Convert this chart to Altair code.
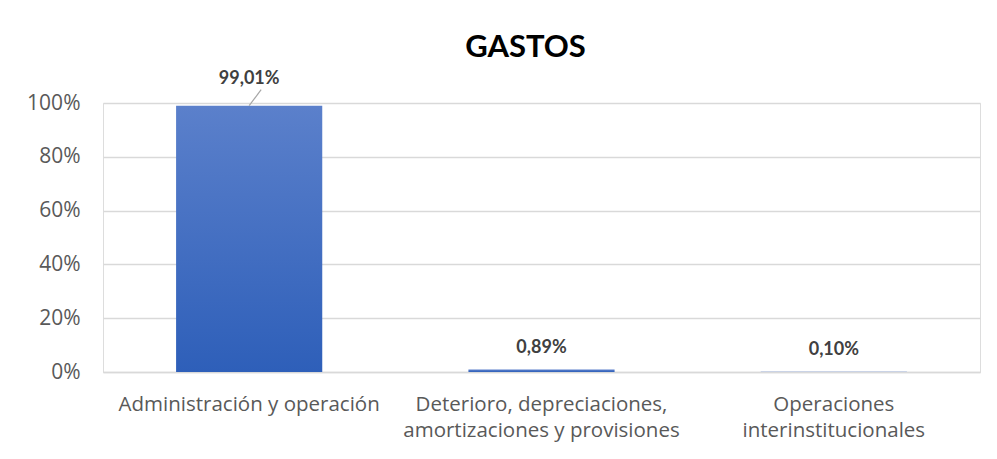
import altair as alt
import pandas as pd

categories = ["Administración y operación",
              "Deterioro, depreciaciones, amortizaciones y provisiones",
              "Operaciones interinstitucionales"]
label_lines = [["Administración y operación"],
               ["Deterioro, depreciaciones,", "amortizaciones y provisiones"],
               ["Operaciones", "interinstitucionales"]]
values = [0.9901, 0.0089, 0.0010]
value_labels = ["99,01%", "0,89%", "0,10%"]

df = pd.DataFrame({"cat": categories, "value": values, "label": value_labels})

FONT = "Lato"
AXFONT = "Open Sans"
GREY = "#595959"

label_expr = ("datum.value == '%s' ? %s : datum.value == '%s' ? %s : %s" % (
    categories[0], str(label_lines[0]), categories[1], str(label_lines[1]), str(label_lines[2])))

x = alt.X("cat:N", sort=categories, title=None,
          scale=alt.Scale(paddingInner=0.5, paddingOuter=0.25),
          axis=alt.Axis(labelAngle=0, labelFont=AXFONT, labelFontSize=20.5, labelColor=GREY,
                        labelPadding=22, labelExpr=label_expr, labelLineHeight=26.5,
                        ticks=False, domainColor="#d9d9d9", domainWidth=1.5, labelLimit=400))
y = alt.Y("value:Q", title=None,
          scale=alt.Scale(domain=[0, 1], nice=False),
          axis=alt.Axis(values=[0, 0.2, 0.4, 0.6, 0.8, 1.0], format=".0%",
                        labelFont=AXFONT, labelFontSize=21, labelColor=GREY, labelPadding=23,
                        ticks=False, domain=False, gridColor="#d9d9d9", gridWidth=1.3))

gradient = alt.Gradient(gradient="linear", x1=0, y1=0, x2=0, y2=1,
                        stops=[alt.GradientStop(color="#5b80cb", offset=0),
                               alt.GradientStop(color="#2e5fb9", offset=1)])

bars = alt.Chart(df).mark_bar(fill=gradient).encode(x=x, y=y)

lab = alt.Chart(df).transform_calculate(
    ly="datum.value > 0.5 ? datum.value + 0.098 : datum.value + 0.08"
).mark_text(font=FONT, fontSize=18, fontWeight="bold", color="#404040", baseline="middle").encode(
    x=alt.X("cat:N", sort=categories), y=alt.Y("ly:Q"), text="label:N")

leader = alt.Chart(df[df["value"] > 0.5]).transform_calculate(
    y1="datum.value + 0.06", y0="datum.value"
).mark_rule(color="#a6a6a6", strokeWidth=1.2, xOffset=12, x2Offset=0).encode(
    x=alt.X("cat:N", sort=categories, bandPosition=0.5),
    x2=alt.X2("cat"),
    y=alt.Y("y1:Q"), y2=alt.Y2("y0:Q"))

chart = alt.layer(bars, lab, leader).properties(
    width=877, height=269,
    title=alt.TitleParams("GASTOS", font=FONT, fontSize=31, fontWeight="bold", color="#000000",
                          anchor="middle", dx=-16, offset=6),
    autosize=alt.AutoSizeParams(type="none"),
    padding={"left": 95, "top": 95, "right": 1, "bottom": 76},
).configure_view(stroke=None).configure(background="white")

chart.save("out.html", embed_options={"renderer": "svg", "actions": False})
